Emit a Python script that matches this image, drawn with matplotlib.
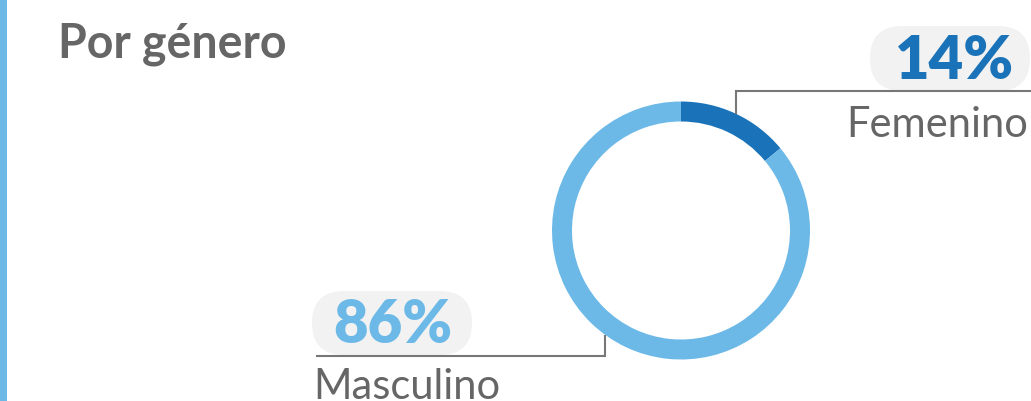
import matplotlib

matplotlib.use("Agg")
import matplotlib.pyplot as plt
from matplotlib.patches import FancyBboxPatch, Rectangle

# data
LABELS = ["Femenino", "Masculino"]
VALUES = [14, 86]
COLORS = ["#1a73b8", "#6cb9e8"]
TITLE = "Por género"

W, H = 1031, 402
GRAY = "#666666"
PILL = "#f2f2f2"


def py(y):
    # pixel row (from top) -> data y
    return H - y


fig = plt.figure(figsize=(W / 100, H / 100), dpi=100)
ax = fig.add_axes([0, 0, 1, 1])

cx, cy, r = 681, 231.5, 129
ax.pie(VALUES, colors=COLORS, startangle=90, counterclock=False,
       center=(cx, py(cy)), radius=r,
       wedgeprops=dict(width=20, linewidth=0))

ax.set_xlim(0, W)
ax.set_ylim(0, H)
ax.set_aspect("equal")
ax.axis("off")

# left accent bar
ax.add_patch(Rectangle((0, 0), 7, H, color="#6cb9e8", lw=0))

ax.text(58, py(58), TITLE, fontsize=33.5, fontweight="bold", color=GRAY,
        family="Lato", va="baseline", ha="left")

# Femenino label
ax.add_patch(FancyBboxPatch((870, py(92)), 160, 65,
                            boxstyle="round,pad=0,rounding_size=32.5",
                            fc=PILL, ec="none", mutation_aspect=1))
ax.text(955, py(79), f"{VALUES[0]}%", fontsize=43, fontweight="heavy",
        color=COLORS[0], family="Lato", ha="center", va="baseline")
ax.plot([736, 736, 1030], [py(114), py(92), py(92)], color="#777777", lw=1.5,
        solid_joinstyle="miter")
ax.text(1028, py(137), LABELS[0], fontsize=30, color=GRAY, family="Lato",
        ha="right", va="baseline")

# Masculino label
ax.add_patch(FancyBboxPatch((312, py(356)), 160, 64,
                            boxstyle="round,pad=0,rounding_size=32",
                            fc=PILL, ec="none", mutation_aspect=1))
ax.text(393, py(343), f"{VALUES[1]}%", fontsize=43, fontweight="heavy",
        color=COLORS[1], family="Lato", ha="center", va="baseline")
ax.plot([317, 605, 605], [py(357), py(357), py(337)], color="#777777", lw=1.5,
        solid_joinstyle="miter")
ax.text(313, py(399), LABELS[1], fontsize=30, color=GRAY, family="Lato",
        ha="left", va="baseline")

fig.savefig("out.png", dpi=100)
